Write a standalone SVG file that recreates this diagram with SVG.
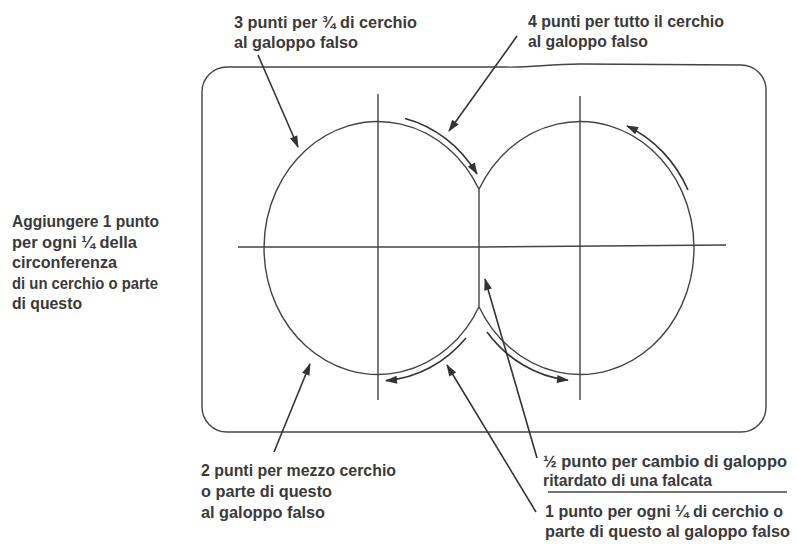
<svg xmlns="http://www.w3.org/2000/svg" width="796" height="544" viewBox="0 0 796 544">
<defs>
<style>
.ln{fill:none;stroke:#444;stroke-width:1.4}
.ptr{fill:none;stroke:#333;stroke-width:1.6}
.t{font-family:"Liberation Sans",Arial,Helvetica,sans-serif;font-size:16px;font-weight:bold;fill:#3a3a3a}
</style>
<marker id="ah" viewBox="0 0 12 8" refX="11" refY="4" markerWidth="13" markerHeight="8" markerUnits="userSpaceOnUse" orient="auto">
<path d="M0,0 L12,4 L0,8 z" fill="#333"/>
</marker>
</defs>
<rect width="796" height="544" fill="#fff"/>

<g id="frame">
<path class="ln" d="M227,67 L505,67 C530,68 548,64 580,64 L741,65 A25,25 0 0 1 766,90 L766,407 A25,25 0 0 1 741,432 L227,432 A25,25 0 0 1 202,407 L202,92 A25,25 0 0 1 227,67 Z"/>
</g>

<g id="axes">
<line class="ln" x1="378" y1="94" x2="378" y2="400"/>
<line class="ln" x1="580" y1="96" x2="580" y2="400"/>
<path class="ln" d="M238,247 L480,247 L600,246 L726,245"/>
</g>

<g id="circle-left">
<path class="ln" d="M479,189.3 A114,126.5 0 1 0 479,306.7"/>
</g>
<g id="circle-right">
<path class="ln" d="M479,189.3 A114,126.5 0 1 1 479,306.7"/>
</g>
<g id="seam">
<line class="ln" x1="479" y1="189.3" x2="479" y2="306.7"/>
</g>

<g id="connectors">
<path class="ptr" marker-end="url(#ah)" d="M405,118.4 A120,133 0 0 1 477,174"/>
<path class="ptr" marker-end="url(#ah)" d="M688,190 A120,133 0 0 0 627,126"/>
<path class="ptr" marker-end="url(#ah)" d="M466,338 A120,133 0 0 1 386,380.6"/>
<path class="ptr" marker-end="url(#ah)" d="M487,332 A120,133 0 0 0 568,380.2"/>
<line class="ptr" marker-end="url(#ah)" x1="258" y1="55" x2="298" y2="147"/>
<line class="ptr" marker-end="url(#ah)" x1="517" y1="36" x2="449" y2="131"/>
<line class="ptr" marker-end="url(#ah)" x1="274" y1="452" x2="310" y2="364"/>
<line class="ptr" marker-end="url(#ah)" x1="536" y1="512" x2="447" y2="365"/>
<line class="ptr" marker-end="url(#ah)" x1="537" y1="458" x2="485" y2="279"/>
<line class="ln" x1="548" y1="492" x2="787" y2="492"/>
</g>

<g id="label-top-left">
<text class="t" x="234" y="28" textLength="183" lengthAdjust="spacingAndGlyphs">3 punti per ¾ di cerchio</text>
<text class="t" x="234" y="48" textLength="124" lengthAdjust="spacingAndGlyphs">al galoppo falso</text>
</g>
<g id="label-top-right">
<text class="t" x="528" y="27" textLength="196" lengthAdjust="spacingAndGlyphs">4 punti per tutto il cerchio</text>
<text class="t" x="528" y="47" textLength="120" lengthAdjust="spacingAndGlyphs">al galoppo falso</text>
</g>
<g id="label-left">
<text class="t" x="12" y="227" textLength="147" lengthAdjust="spacingAndGlyphs">Aggiungere 1 punto</text>
<text class="t" x="12" y="248" textLength="125" lengthAdjust="spacingAndGlyphs">per ogni  ¼ della</text>
<text class="t" x="12" y="268" textLength="105" lengthAdjust="spacingAndGlyphs">circonferenza</text>
<text class="t" x="12" y="289" textLength="146" lengthAdjust="spacingAndGlyphs">di un cerchio o parte</text>
<text class="t" x="12" y="309" textLength="70" lengthAdjust="spacingAndGlyphs">di questo</text>
</g>
<g id="label-bottom-left">
<text class="t" x="201" y="476" textLength="195" lengthAdjust="spacingAndGlyphs">2 punti per mezzo cerchio</text>
<text class="t" x="201" y="497" textLength="131" lengthAdjust="spacingAndGlyphs">o parte di questo</text>
<text class="t" x="201" y="518" textLength="124" lengthAdjust="spacingAndGlyphs">al galoppo falso</text>
</g>
<g id="label-bottom-right-1">
<text class="t" x="543" y="467" textLength="244" lengthAdjust="spacingAndGlyphs">½ punto per cambio di galoppo</text>
<text class="t" x="543" y="486" textLength="169" lengthAdjust="spacingAndGlyphs">ritardato di una falcata</text>
</g>
<g id="label-bottom-right-2">
<text class="t" x="545" y="517" textLength="238" lengthAdjust="spacingAndGlyphs">1 punto per ogni ¼ di cerchio o</text>
<text class="t" x="545" y="537" textLength="245" lengthAdjust="spacingAndGlyphs">parte di questo al galoppo falso</text>
</g>
</svg>
